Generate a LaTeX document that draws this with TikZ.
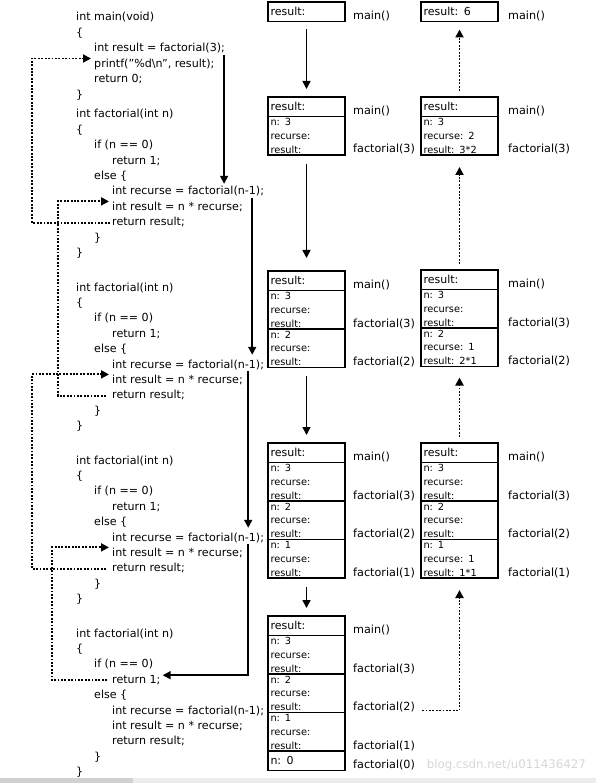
\documentclass[tikz,border=0pt]{standalone}
\usepackage{fontspec}
\setmainfont{DejaVu Sans}
\usetikzlibrary{arrows.meta, positioning, calc}

\tikzset{
  code/.style={anchor=west, inner sep=0pt, text height=8pt, text depth=2pt, font=\fontsize{11.1}{13}\selectfont},
  head/.style={draw, line width=1.6pt, outer sep=0pt, text width=72pt, inner xsep=2.5pt, inner ysep=0pt, minimum height=19.5pt, align=left, font=\fontsize{11}{13}\selectfont},
  frame/.style={head, minimum height=38.5pt, font=\fontsize{9.8}{13.8}\selectfont},
  tag/.style={anchor=base west, inner sep=0pt, font=\fontsize{11.2}{13}\selectfont},
  call/.style={line width=1.6pt, -{Triangle[length=8pt, width=8pt]}},
  ret/.style={call, line width=1.9pt, dash pattern=on 1.9pt off 1.5pt},
}

\begin{document}
\begin{tikzpicture}[x=1pt, y=-1pt]
    \useasboundingbox (0,0) rectangle (596,783);
    % scroll bar and watermark
    \fill[black!7] (0,778) rectangle (596,783);
    \fill[black!18] (0,778) rectangle (133,783);
    \node[anchor=east, inner sep=0pt, text=black!16, font=\fontsize{11.8}{14}\selectfont] (wm) at (586,765) {blog.csdn.net/u011436427};
    % source code: main()
    \foreach \i/\x/\t in {0/0/{int main(void)}, 1/0/\{, 2/18/{int result = factorial(3);}, 3/18/{printf("\%d\textbackslash n", result);}, 4/18/{return 0;}, 5/0/\}}
        \node[code] (m\i) at (76+\x, 18+15.5*\i) {\t};
    % source code: one copy of factorial() per call
    \foreach \k/\y in {1/115, 2/288, 3/461, 4/634}
        \foreach \i/\x/\t in {0/0/{int factorial(int n)}, 1/0/\{, 2/18/{if (n == 0)}, 3/36/{return 1;}, 4/18/{else \{}, 5/36/{int recurse = factorial(n-1);}, 6/36/{int result = n * recurse;}, 7/36/{return result;}, 8/18/\}, 9/0/\}}
            \node[code] (f\k-\i) at (76+\x, \y+15.4*\i) {\t};
    % calls
    \coordinate (c1) at ($(m2.south east)+(-1,1)$);
    \coordinate (c2) at ($(f1-5.south east)+(-12,1)$);
    \coordinate (c3) at ($(f2-5.south east)+(-16,1)$);
    \coordinate (c4) at ($(f3-5.south east)+(-16,1)$);
    \coordinate (r1) at ($(f4-3.east)+(2,-5)$);
    \draw[call, shorten >=3pt] (c1) -- (c1 |- f1-5.north);
    \draw[call, shorten >=5pt] (c2) -- (c2 |- f2-5.north);
    \draw[call, shorten >=5pt] (c3) -- (c3 |- f3-5.north);
    \draw[call] (c4) |- (r1);
    % returns
    \coordinate (rail1) at (32,0);
    \coordinate (rail2) at (58,0);
    \coordinate (rail3) at (52,0);
    \draw[ret, shorten >=3pt] ([xshift=-2pt]f1-7.west) -- (f1-7.west -| rail1) |- ([yshift=6pt]m3.west);
    \draw[ret, shorten >=3pt] ([xshift=-6pt]f2-7.west) -- (f2-7.west -| rail2) |- ([yshift=6pt]f1-6.west);
    \draw[ret, shorten >=3pt] ([xshift=-6pt]f3-7.west) -- (f3-7.west -| rail1) |- ([yshift=6pt]f2-6.west);
    \draw[ret, shorten >=3pt] ([xshift=-5pt]f4-3.west) -- (f4-3.west -| rail3) |- ([yshift=6pt]f3-6.west);
    % stack while calling
    \node[head, anchor=north] (a1) at (306.5,2) {result:};
    \node[head, anchor=north] (a2) at (306.5,97) {result:};
    \node[frame, below=0pt of a2] (a2f3) {n: 3\\recurse:\\result:};
    \node[head, anchor=north] (a3) at (306.5,271) {result:};
    \node[frame, below=0pt of a3] (a3f3) {n: 3\\recurse:\\result:};
    \node[frame, below=0pt of a3f3] (a3f2) {n: 2\\recurse:\\result:};
    \node[head, anchor=north] (a4) at (306.5,443) {result:};
    \node[frame, below=0pt of a4] (a4f3) {n: 3\\recurse:\\result:};
    \node[frame, below=0pt of a4f3] (a4f2) {n: 2\\recurse:\\result:};
    \node[frame, below=0pt of a4f2] (a4f1) {n: 1\\recurse:\\result:};
    \node[head, anchor=north] (a5) at (306.5,616) {result:};
    \node[frame, below=0pt of a5] (a5f3) {n: 3\\recurse:\\result:};
    \node[frame, below=0pt of a5f3] (a5f2) {n: 2\\recurse:\\result:};
    \node[frame, below=0pt of a5f2] (a5f1) {n: 1\\recurse:\\result:};
    \node[head, below=0pt of a5f1] (a5f0) {n: 0};
    % stack while returning
    \node[head, anchor=north] (b1) at (459.5,2) {result: 6};
    \node[head, anchor=north] (b2) at (459.5,97) {result:};
    \node[frame, below=0pt of b2] (b2f3) {n: 3\\recurse: 2\\result: 3*2};
    \node[head, anchor=north] (b3) at (459.5,270) {result:};
    \node[frame, below=0pt of b3] (b3f3) {n: 3\\recurse:\\result:};
    \node[frame, below=0pt of b3f3] (b3f2) {n: 2\\recurse: 1\\result: 2*1};
    \node[head, anchor=north] (b4) at (459.5,443) {result:};
    \node[frame, below=0pt of b4] (b4f3) {n: 3\\recurse:\\result:};
    \node[frame, below=0pt of b4f3] (b4f2) {n: 2\\recurse:\\result:};
    \node[frame, below=0pt of b4f2] (b4f1) {n: 1\\recurse: 1\\result: 1*1};
    % frame names
    \foreach \s/\t in {a1/main(), a2/main(), a2f3/factorial(3), a3/main(), a3f3/factorial(3), a3f2/factorial(2), a4/main(), a4f3/factorial(3), a4f2/factorial(2), a4f1/factorial(1), a5/main(), a5f3/factorial(3), a5f2/factorial(2), a5f1/factorial(1), a5f0/factorial(0)}
        \node[tag] (t-\s) at ([xshift=8pt, yshift=2pt]\s.south east) {\t};
    \foreach \s/\t in {b1/main(), b2/main(), b2f3/factorial(3), b3/main(), b3f3/factorial(3), b3f2/factorial(2), b4/main(), b4f3/factorial(3), b4f2/factorial(2), b4f1/factorial(1)}
        \node[tag] (t-\s) at ([xshift=10pt, yshift=2pt]\s.south east) {\t};
    % pushes
    \draw[call, shorten <=8pt, shorten >=8pt] (a1) -- (a2);
    \draw[call, shorten <=9pt, shorten >=13pt] (a2f3) -- (a3);
    \draw[call, shorten <=8pt, shorten >=8pt] (a3f2) -- (a4);
    \draw[call, shorten <=9pt, shorten >=8pt] (a4f1) -- (a5);
    % pops
    \draw[ret, shorten <=6pt, shorten >=8pt] (b2) -- (b1);
    \draw[ret, shorten <=6pt, shorten >=12pt] (b3) -- (b2f3);
    \draw[ret, shorten <=6pt, shorten >=11pt] (b4) -- (b3f2);
    \draw[ret, shorten <=7pt, shorten >=12pt] (t-a5f2.base east) -| (b4f1.south);
\end{tikzpicture}
\end{document}
